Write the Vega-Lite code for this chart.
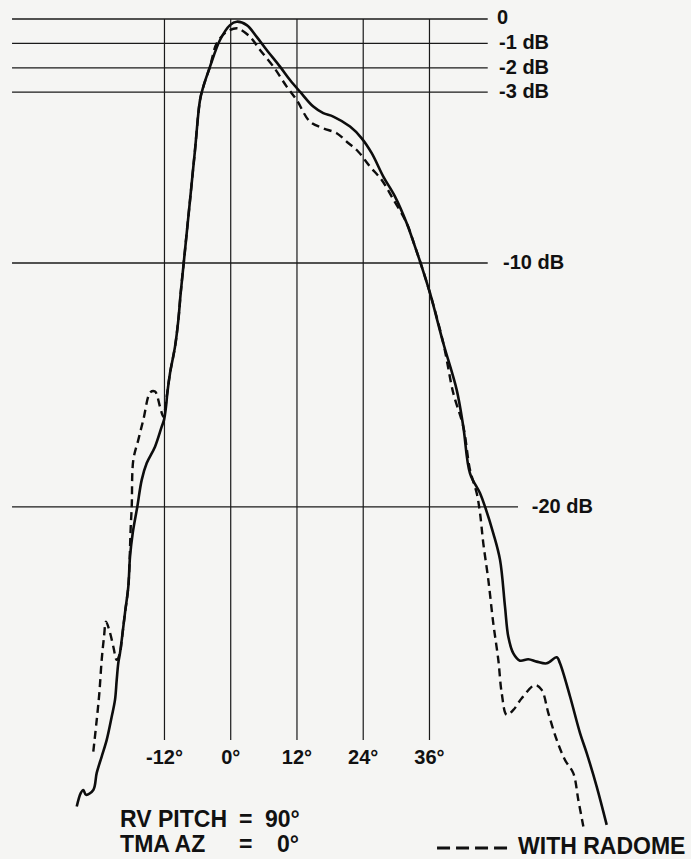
{
  "$schema": "https://vega.github.io/schema/vega-lite/v6.json",
  "width": 691,
  "height": 859,
  "autosize": "none",
  "padding": 0,
  "background": "#f5f5f3",
  "config": {"view": {"stroke": null}},
  "datasets": {
    "solid": [
      {"i":1,"x":-27.89,"y":-32.28},{"i":2,"x":-27.17,"y":-31.73},{"i":3,"x":-26.70,"y":-31.60},{"i":4,"x":-26.21,"y":-31.80},{"i":5,"x":-24.89,"y":-31.60},{"i":6,"x":-24.27,"y":-30.90},{"i":7,"x":-23.37,"y":-30.23},{"i":8,"x":-22.46,"y":-29.55},{"i":9,"x":-21.55,"y":-28.59},{"i":10,"x":-20.96,"y":-27.91},{"i":11,"x":-20.65,"y":-27.09},{"i":12,"x":-20.36,"y":-26.39},{"i":13,"x":-20.05,"y":-25.98},{"i":14,"x":-19.74,"y":-25.45},{"i":15,"x":-19.15,"y":-24.34},{"i":16,"x":-18.55,"y":-23.27},{"i":17,"x":-18.24,"y":-22.04},{"i":18,"x":-17.75,"y":-21.07},{"i":19,"x":-16.92,"y":-19.99},{"i":20,"x":-16.12,"y":-18.89},{"i":21,"x":-15.21,"y":-18.20},{"i":22,"x":-13.71,"y":-17.53},{"i":23,"x":-12.50,"y":-16.71},{"i":24,"x":-12.08,"y":-16.43},{"i":25,"x":-11.72,"y":-15.89},{"i":26,"x":-11.48,"y":-15.33},{"i":27,"x":-10.99,"y":-14.51},{"i":28,"x":-10.09,"y":-13.43},{"i":29,"x":-9.49,"y":-12.34},{"i":30,"x":-9.06,"y":-11.23},{"i":31,"x":-8.28,"y":-9.47},{"i":32,"x":-7.37,"y":-7.42},{"i":33,"x":-6.47,"y":-5.37},{"i":34,"x":-5.56,"y":-3.32},{"i":35,"x":-4.96,"y":-2.77},{"i":36,"x":-3.75,"y":-1.95},{"i":37,"x":-1.94,"y":-0.86},{"i":38,"x":-0.13,"y":-0.25},{"i":39,"x":1.09,"y":-0.11},{"i":40,"x":2.90,"y":-0.25},{"i":41,"x":4.71,"y":-0.73},{"i":42,"x":6.52,"y":-1.27},{"i":43,"x":8.93,"y":-1.95},{"i":44,"x":10.74,"y":-2.50},{"i":45,"x":12.55,"y":-2.98},{"i":46,"x":14.96,"y":-3.59},{"i":47,"x":16.77,"y":-3.86},{"i":48,"x":18.58,"y":-4.00},{"i":49,"x":21.61,"y":-4.41},{"i":50,"x":23.73,"y":-4.89},{"i":51,"x":25.54,"y":-5.50},{"i":52,"x":27.64,"y":-6.46},{"i":53,"x":29.76,"y":-7.28},{"i":54,"x":31.88,"y":-8.37},{"i":55,"x":33.38,"y":-9.33},{"i":56,"x":34.60,"y":-10.15},{"i":57,"x":36.10,"y":-11.24},{"i":58,"x":38.51,"y":-13.29},{"i":59,"x":40.93,"y":-15.20},{"i":60,"x":42.13,"y":-16.71},{"i":61,"x":43.34,"y":-18.62},{"i":62,"x":45.16,"y":-19.44},{"i":63,"x":46.06,"y":-19.99},{"i":64,"x":47.56,"y":-21.08},{"i":65,"x":48.78,"y":-22.17},{"i":66,"x":49.68,"y":-24.09},{"i":67,"x":50.28,"y":-25.32},{"i":68,"x":51.19,"y":-26.00},{"i":69,"x":52.40,"y":-26.30},{"i":70,"x":53.90,"y":-26.24},{"i":71,"x":55.42,"y":-26.34},{"i":72,"x":57.24,"y":-26.41},{"i":73,"x":59.05,"y":-26.16},{"i":74,"x":59.64,"y":-26.41},{"i":75,"x":61.46,"y":-27.77},{"i":76,"x":63.27,"y":-29.27},{"i":77,"x":64.48,"y":-30.09},{"i":78,"x":66.29,"y":-31.46},{"i":79,"x":68.10,"y":-33.03}
    ],
    "dashed": [
      {"i":1,"x":-24.89,"y":-30.03},{"i":2,"x":-24.27,"y":-28.73},{"i":3,"x":-23.80,"y":-27.64},{"i":4,"x":-23.37,"y":-26.27},{"i":5,"x":-22.95,"y":-25.32},{"i":6,"x":-22.59,"y":-24.70},{"i":7,"x":-21.86,"y":-25.16},{"i":8,"x":-21.26,"y":-25.73},{"i":9,"x":-20.65,"y":-26.27},{"i":10,"x":-20.05,"y":-25.98},{"i":11,"x":-19.74,"y":-25.45},{"i":12,"x":-19.15,"y":-24.34},{"i":13,"x":-18.55,"y":-23.27},{"i":14,"x":-18.11,"y":-20.81},{"i":15,"x":-17.93,"y":-19.99},{"i":16,"x":-17.64,"y":-18.07},{"i":17,"x":-16.74,"y":-17.25},{"i":18,"x":-15.83,"y":-16.43},{"i":19,"x":-14.53,"y":-15.29},{"i":20,"x":-13.71,"y":-15.27},{"i":21,"x":-12.81,"y":-15.89},{"i":22,"x":-12.21,"y":-16.30},{"i":23,"x":-11.59,"y":-15.48},{"i":24,"x":-10.99,"y":-14.51},{"i":25,"x":-10.09,"y":-13.43},{"i":26,"x":-9.49,"y":-12.34},{"i":27,"x":-9.06,"y":-11.23},{"i":28,"x":-8.28,"y":-9.47},{"i":29,"x":-7.37,"y":-7.42},{"i":30,"x":-6.47,"y":-5.37},{"i":31,"x":-5.56,"y":-3.32},{"i":32,"x":-4.96,"y":-2.77},{"i":33,"x":-3.75,"y":-1.95},{"i":34,"x":-2.54,"y":-1.00},{"i":35,"x":-0.72,"y":-0.52},{"i":36,"x":1.09,"y":-0.38},{"i":37,"x":1.68,"y":-0.42},{"i":38,"x":3.50,"y":-0.73},{"i":39,"x":5.31,"y":-1.27},{"i":40,"x":7.72,"y":-1.95},{"i":41,"x":10.14,"y":-2.77},{"i":42,"x":11.95,"y":-3.32},{"i":43,"x":14.36,"y":-4.21},{"i":44,"x":16.77,"y":-4.48},{"i":45,"x":19.20,"y":-4.68},{"i":46,"x":21.01,"y":-5.03},{"i":47,"x":23.11,"y":-5.44},{"i":48,"x":25.23,"y":-6.05},{"i":49,"x":27.35,"y":-6.60},{"i":50,"x":29.16,"y":-7.28},{"i":51,"x":31.88,"y":-8.37},{"i":52,"x":33.38,"y":-9.33},{"i":53,"x":34.60,"y":-10.15},{"i":54,"x":36.10,"y":-11.24},{"i":55,"x":38.51,"y":-13.29},{"i":56,"x":40.32,"y":-15.34},{"i":57,"x":42.13,"y":-16.71},{"i":58,"x":43.34,"y":-18.48},{"i":59,"x":44.56,"y":-19.44},{"i":60,"x":45.16,"y":-20.26},{"i":61,"x":45.75,"y":-21.49},{"i":62,"x":46.66,"y":-22.99},{"i":63,"x":47.56,"y":-24.77},{"i":64,"x":48.47,"y":-26.27},{"i":65,"x":49.09,"y":-27.64},{"i":66,"x":49.99,"y":-28.52},{"i":67,"x":51.19,"y":-28.32},{"i":68,"x":52.71,"y":-27.84},{"i":69,"x":55.12,"y":-27.30},{"i":70,"x":56.33,"y":-27.50},{"i":71,"x":57.53,"y":-28.45},{"i":72,"x":59.05,"y":-29.55},{"i":73,"x":60.55,"y":-30.37},{"i":74,"x":62.05,"y":-30.91},{"i":75,"x":62.96,"y":-32.01},{"i":76,"x":63.87,"y":-33.10}
    ],
    "hgrid": [
      {"y":0,"x":-39.61,"x2":46.55},{"y":-1,"x":-39.61,"x2":46.55},{"y":-2,"x":-39.61,"x2":46.55},{"y":-3,"x":-39.61,"x2":46.55},{"y":-10,"x":-39.61,"x2":46.55},{"y":-20,"x":-39.61,"x2":52.04}
    ],
    "vgrid": [
      {"x":-12,"y":0,"y2":-29.55},{"x":0,"y":0,"y2":-29.55},{"x":12,"y":0,"y2":-29.55},{"x":24,"y":0,"y2":-29.55},{"x":36,"y":0,"y2":-29.55}
    ],
    "dblabels": [
      {"x":48.23,"y":0.06,"t":"0"},{"x":48.6,"y":-1,"t":"-1 dB"},{"x":48.6,"y":-2,"t":"-2 dB"},{"x":48.6,"y":-3,"t":"-3 dB"},{"x":49.32,"y":-10,"t":"-10 dB"},{"x":54.52,"y":-20,"t":"-20 dB"}
    ],
    "deglabels": [
      {"x":-12,"y":-30.29,"t":"-12°"},{"x":0,"y":-30.29,"t":"0°"},{"x":12,"y":-30.29,"t":"12°"},{"x":24,"y":-30.29,"t":"24°"},{"x":36,"y":-30.29,"t":"36°"}
    ],
    "notes": [
      {"x":-20.04,"y":-32.83,"t":"RV PITCH"},{"x":1.5,"y":-32.83,"t":"="},{"x":6.21,"y":-32.83,"t":"90°"},
      {"x":-20.04,"y":-33.85,"t":"TMA AZ"},{"x":1.5,"y":-33.85,"t":"="},{"x":8.39,"y":-33.85,"t":"0°"},
      {"x":52.04,"y":-33.93,"t":"WITH RADOME"}
    ],
    "legendline": [
      {"x":37.37,"x2":50.95,"y":-33.98}
    ]
  },
  "layer": [
    {
      "data": {"name": "hgrid"},
      "mark": {"type": "rule", "color": "#1a1a1a", "strokeWidth": 1.3},
      "encoding": {
        "x": {"field": "x", "type": "quantitative", "scale": {"domain": [-41.79, 83.37], "nice": false, "zero": false}, "axis": null},
        "x2": {"field": "x2"},
        "y": {"field": "y", "type": "quantitative", "scale": {"domain": [-34.43, 0.779], "nice": false, "zero": false}, "axis": null}
      }
    },
    {
      "data": {"name": "vgrid"},
      "mark": {"type": "rule", "color": "#1a1a1a", "strokeWidth": 1.2},
      "encoding": {
        "x": {"field": "x", "type": "quantitative"},
        "y": {"field": "y", "type": "quantitative"},
        "y2": {"field": "y2"}
      }
    },
    {
      "data": {"name": "solid"},
      "mark": {"type": "line", "color": "#0d0d0d", "strokeWidth": 2.6, "interpolate": "catmull-rom"},
      "encoding": {
        "x": {"field": "x", "type": "quantitative"},
        "y": {"field": "y", "type": "quantitative"},
        "order": {"field": "i", "type": "quantitative"}
      }
    },
    {
      "data": {"name": "dashed"},
      "mark": {"type": "line", "color": "#0d0d0d", "strokeWidth": 2.4, "strokeDash": [8, 5], "interpolate": "catmull-rom"},
      "encoding": {
        "x": {"field": "x", "type": "quantitative"},
        "y": {"field": "y", "type": "quantitative"},
        "order": {"field": "i", "type": "quantitative"}
      }
    },
    {
      "data": {"name": "dblabels"},
      "mark": {"type": "text", "align": "left", "baseline": "middle", "font": "Liberation Sans", "fontWeight": "bold", "fontSize": 20, "color": "#111"},
      "encoding": {
        "x": {"field": "x", "type": "quantitative"},
        "y": {"field": "y", "type": "quantitative"},
        "text": {"field": "t"}
      }
    },
    {
      "data": {"name": "deglabels"},
      "mark": {"type": "text", "align": "center", "baseline": "middle", "font": "Liberation Sans", "fontWeight": "bold", "fontSize": 20, "color": "#111"},
      "encoding": {
        "x": {"field": "x", "type": "quantitative"},
        "y": {"field": "y", "type": "quantitative"},
        "text": {"field": "t"}
      }
    },
    {
      "data": {"name": "notes"},
      "mark": {"type": "text", "align": "left", "baseline": "middle", "font": "Liberation Sans", "fontWeight": "bold", "fontSize": 23, "color": "#111"},
      "encoding": {
        "x": {"field": "x", "type": "quantitative"},
        "y": {"field": "y", "type": "quantitative"},
        "text": {"field": "t"}
      }
    },
    {
      "data": {"name": "legendline"},
      "mark": {"type": "rule", "color": "#111", "strokeWidth": 3, "strokeDash": [13, 6]},
      "encoding": {
        "x": {"field": "x", "type": "quantitative"},
        "x2": {"field": "x2"},
        "y": {"field": "y", "type": "quantitative"}
      }
    }
  ]
}
